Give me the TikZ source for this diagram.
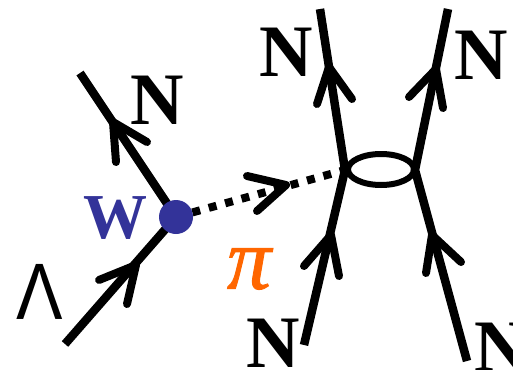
\documentclass[tikz,border=0pt]{standalone}
\usepackage{fontspec}
\setmainfont{Liberation Serif}
\newfontfamily\lamfont{Liberation Sans}
\newfontface\pifont{Liberation Serif Italic}[FakeBold=1]
\definecolor{wblue}{RGB}{51,51,153}
\definecolor{piorange}{RGB}{255,102,0}
\tikzset{
  x=1pt,y=-1pt,
  fermion/.style={line width=8.5pt,black},
  barb/.style={line width=8pt,black,line cap=round,line join=round},
  meson/.style={line width=8pt,black,dash pattern=on 8pt off 9pt},
  loopring/.style={draw=black,line width=6pt},
  lab/.style={inner sep=0pt,anchor=center,text=black,font=\fontsize{74}{74}\selectfont\bfseries},
  wlab/.style={inner sep=0pt,anchor=center,text=wblue,font=\fontsize{64}{64}\selectfont\bfseries},
  pilab/.style={inner sep=0pt,anchor=center,text=piorange,font=\fontsize{88}{88}\selectfont\pifont},
  vertexdot/.style={circle,fill=wblue,inner sep=0pt,minimum size=34pt},
}
\begin{document}
\begin{tikzpicture}
\path[use as bounding box] (0,0) rectangle (513,369);
\clip (0,0) rectangle (513,369);
\coordinate (v) at (176,217);
\coordinate (lamS) at (65,344);
\coordinate (nE) at (80,73);
\coordinate (ll) at (345,170);
\coordinate (lr) at (415,170);
\coordinate (tl) at (320,9);
\coordinate (tr) at (448,9);
\coordinate (bl) at (304,345);
\coordinate (br) at (467,361);
% lines
\draw[fermion] (lamS) -- (v);
\draw[fermion] (nE) -- (v);
\draw[fermion] (tl) -- (ll) -- (bl);
\draw[fermion] (tr) -- (lr) -- (br);
\draw[meson] (v) -- (ll);
\draw[loopring] (381,169.5) ellipse [x radius=33,y radius=15.5];
% arrow heads
\draw[barb] (99,280) -- (136,265) -- (127,304);
\draw[barb] (147,142) -- (113,122) -- (116,162);
\draw[barb] (247,176) -- (286,185) -- (257,211);
\draw[barb] (352,99) -- (329,67) -- (317,104);
\draw[barb] (409,97) -- (436,69) -- (443,108);
\draw[barb] (304,266) -- (331,235) -- (339,276);
\draw[barb] (426,273) -- (432,235) -- (461,262);
\node[vertexdot] (dot) at (v) {};
% labels
\node[lab] (n1) at (157.5,100) {N};
\node[lab] (n2) at (286,52) {N};
\node[lab] (n3) at (481,55) {N};
\node[lab] (n4) at (273,343) {N};
\node[lab] (n5) at (501,347) {N};
\node[wlab] (w) at (115,218) {W};
\node[pilab] (pi) at (249,269) {π};
\node[inner sep=0pt,font=\fontsize{80}{80}\selectfont\lamfont] (lam) at (40,292) {\scalebox{0.87}[1]{Λ}};
\end{tikzpicture}
\end{document}
